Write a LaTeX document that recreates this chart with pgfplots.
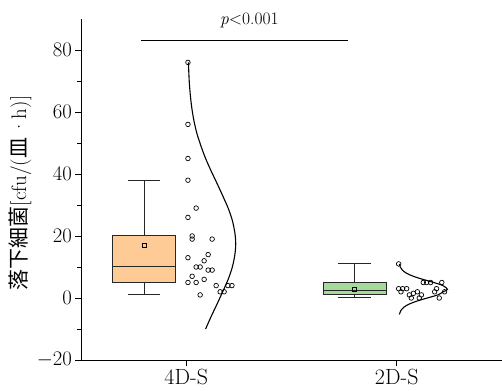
\documentclass[border=0pt]{standalone}
\usepackage{pgfplots}
\pgfplotsset{compat=1.18}
\usepgfplotslibrary{statistics}
\usepackage{fontspec}
\newfontfamily\cjk{Noto Sans CJK JP}
\definecolor{boxorange}{RGB}{254,202,150}
\definecolor{boxgreen}{RGB}{166,218,156}
\begin{document}
\begin{tikzpicture}
\begin{axis}[
  scale only axis, width=421pt, height=341pt,
  xmin=0.5, xmax=2.5, ymin=-20, ymax=90,
  axis x line*=bottom, axis y line*=left,
  axis line style={line width=0.9pt, -},
  xtick={1,2}, xticklabels={4D-S,2D-S},
  ytick={-20,0,20,40,60,80}, minor y tick num=1,
  tick align=outside,
  major tick length=5.5pt, minor tick length=3.5pt,
  tick style={black, line width=0.8pt},
  ticklabel style={font=\fontsize{22}{26}\selectfont},
  ylabel={{\cjk 落下細菌}[cfu/({\cjk 皿}\,·h)]},
  ylabel style={at={(axis description cs:-0.145,0.49)}, anchor=center, font=\fontsize{21}{25}\selectfont},
  boxplot/draw direction=y,
  clip=false,
]
\coordinate (ll) at (rel axis cs:0,0);
% box plots
\addplot[boxplot prepared={draw position=0.8, lower whisker=1, lower quartile=5, median=10, upper quartile=20, upper whisker=38, box extend=0.3, whisker extend=0.155}, fill=boxorange, draw=black!85, line width=1pt] coordinates {};
\addplot[boxplot prepared={draw position=1.8, lower whisker=0, lower quartile=1, median=2.5, upper quartile=5, upper whisker=11, box extend=0.3, whisker extend=0.155}, fill=boxgreen, draw=black!85, line width=1pt] coordinates {};
% means
\addplot[only marks, mark=square, mark size=2pt, black, line width=0.7pt] coordinates {(0.8,17) (1.8,2.9)};
% scatter 4D-S
\addplot[only marks, mark=o, mark size=2.3pt, black, line width=0.7pt] coordinates {
(1.008,76) (1.008,56) (1.008,45) (1.008,38) (1.047,29) (1.008,26)
(1.028,20) (1.028,19) (1.123,19) (1.008,13) (1.104,14) (1.085,12)
(1.047,10) (1.066,10) (1.104,9) (1.123,9) (1.028,7) (1.085,6)
(1.008,5) (1.047,5) (1.142,4) (1.198,4) (1.217,4) (1.161,2) (1.180,2) (1.066,1)
};
% scatter 2D-S
\addplot[only marks, mark=o, mark size=2.3pt, black, line width=0.7pt] coordinates {
(2.009,11) (2.126,5) (2.142,5) (2.161,5) (2.214,5)
(2.009,3) (2.028,3) (2.047,3) (2.020,2) (2.060,1) (2.079,1.5)
(2.098,2) (2.117,1) (2.069,0) (2.107,0) (2.189,3) (2.180,2) (2.227,2) (2.202,0)
};
% normal curve 4D-S
\addplot[smooth, black, line width=1.1pt] coordinates {
(1.092,-10) (1.118,-6) (1.146,-2) (1.173,2) (1.199,6) (1.219,10) (1.231,14)
(1.235,17.5) (1.231,21) (1.219,25) (1.199,29) (1.173,33) (1.146,37) (1.118,41)
(1.092,45) (1.070,49) (1.051,53) (1.037,57) (1.027,61) (1.020,65) (1.015,69)
(1.012,73) (1.0105,76)
};
% normal curve 2D-S
\addplot[smooth, black, line width=1.1pt] coordinates {
(2.0126,-5.3) (2.0197,-4) (2.033,-3) (2.0576,-2) (2.0958,-1) (2.145,0)
(2.195,1) (2.221,2) (2.241,2.8) (2.219,4) (2.176,5) (2.1245,6) (2.0789,7)
(2.046,8) (2.0265,9) (2.0166,10) (2.0123,11)
};
% significance
\addplot[black, line width=0.9pt] coordinates {(0.785,83) (1.77,83)};
\node[font=\fontsize{17.5}{21}\selectfont] at (axis cs:1.3,89.5) {\textit{p}<0.001};
\end{axis}
\pgfresetboundingbox
\useasboundingbox ([shift={(-81pt,-30pt)}]ll) rectangle ++(502pt,390pt);
\end{tikzpicture}
\end{document}
